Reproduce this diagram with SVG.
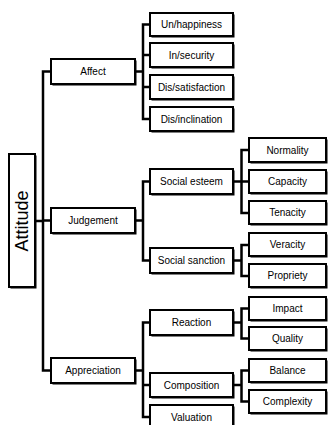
<svg xmlns="http://www.w3.org/2000/svg" width="330" height="425" viewBox="0 0 330 425">
<style>
.sh{fill:#000}
.bx{fill:#fff;stroke:#000;stroke-width:2}
.t{font-family:"Liberation Sans",Arial,sans-serif;font-size:10px;fill:#000;text-anchor:middle}
.c{fill:none;stroke:#000;stroke-width:2.5;stroke-linecap:square}
</style>
<rect width="330" height="425" fill="#fff"/>
<g id="connectors">
<path class="c" d="M35 221H43M43 71.5V370.5M43 71.5H51M43 220.5H51M43 370.5H51"/>
<path class="c" d="M135 71.5H143M143 24.5V119M143 24.5H150M143 55H150M143 87H150M143 119H150"/>
<path class="c" d="M135 220.5H143M143 181.5V260.5M143 181.5H150M143 260.5H150"/>
<path class="c" d="M135 370.5H143M143 322.5V417M143 322.5H150M143 385H150M143 417H150"/>
<path class="c" d="M233 181.5H241.5M241.5 150V213M241.5 150H249M241.5 181.5H249M241.5 213H249"/>
<path class="c" d="M233 260.5H241.5M241.5 245V276M241.5 245H249M241.5 276H249"/>
<path class="c" d="M233 322.5H241.5M241.5 308.5V338.5M241.5 308.5H249M241.5 338.5H249"/>
<path class="c" d="M233 385H241.5M241.5 370.5V401.5M241.5 370.5H249M241.5 401.5H249"/>
</g>
<g id="attitude"><rect class="sh" x="10.5" y="155.5" width="26" height="133"/><rect class="bx" x="9" y="154" width="26" height="133"/><text transform="translate(28,221) rotate(-90)" style="font-family:'Liberation Sans',Arial,sans-serif;font-size:18px;text-anchor:middle">Attitude</text></g>
<g id="affect"><rect class="sh" x="52.5" y="60.5" width="84" height="25"/><rect class="bx" x="51" y="59" width="84" height="25"/><text class="t" x="93" y="75">Affect</text></g>
<g id="judgement"><rect class="sh" x="52.5" y="209.5" width="84" height="25"/><rect class="bx" x="51" y="208" width="84" height="25"/><text class="t" x="93" y="224">Judgement</text></g>
<g id="appreciation"><rect class="sh" x="52.5" y="359.5" width="84" height="25"/><rect class="bx" x="51" y="358" width="84" height="25"/><text class="t" x="93" y="374">Appreciation</text></g>
<g id="unhappiness"><rect class="sh" x="151.5" y="14.5" width="83" height="23"/><rect class="bx" x="150" y="13" width="83" height="23"/><text class="t" x="191.5" y="28">Un/happiness</text></g>
<g id="insecurity"><rect class="sh" x="151.5" y="44.5" width="83" height="24"/><rect class="bx" x="150" y="43" width="83" height="24"/><text class="t" x="191.5" y="58.5">In/security</text></g>
<g id="dissatisfaction"><rect class="sh" x="151.5" y="76.5" width="83" height="24"/><rect class="bx" x="150" y="75" width="83" height="24"/><text class="t" x="191.5" y="90.5">Dis/satisfaction</text></g>
<g id="disinclination"><rect class="sh" x="151.5" y="108.5" width="83" height="24"/><rect class="bx" x="150" y="107" width="83" height="24"/><text class="t" x="191.5" y="122.5">Dis/inclination</text></g>
<g id="socialesteem"><rect class="sh" x="151.5" y="170.5" width="83" height="25"/><rect class="bx" x="150" y="169" width="83" height="25"/><text class="t" x="191.5" y="185">Social esteem</text></g>
<g id="socialsanction"><rect class="sh" x="151.5" y="249.5" width="83" height="25"/><rect class="bx" x="150" y="248" width="83" height="25"/><text class="t" x="191.5" y="264">Social sanction</text></g>
<g id="reaction"><rect class="sh" x="151.5" y="311.5" width="83" height="25"/><rect class="bx" x="150" y="310" width="83" height="25"/><text class="t" x="191.5" y="326">Reaction</text></g>
<g id="composition"><rect class="sh" x="151.5" y="374.5" width="83" height="24"/><rect class="bx" x="150" y="373" width="83" height="24"/><text class="t" x="191.5" y="388.5">Composition</text></g>
<g id="valuation"><rect class="sh" x="151.5" y="406.5" width="83" height="24"/><rect class="bx" x="150" y="405" width="83" height="24"/><text class="t" x="191.5" y="420.5">Valuation</text></g>
<g id="normality"><rect class="sh" x="250.5" y="139.5" width="77" height="24"/><rect class="bx" x="249" y="138" width="77" height="24"/><text class="t" x="287.5" y="153.5">Normality</text></g>
<g id="capacity"><rect class="sh" x="250.5" y="171.5" width="77" height="23"/><rect class="bx" x="249" y="170" width="77" height="23"/><text class="t" x="287.5" y="185">Capacity</text></g>
<g id="tenacity"><rect class="sh" x="250.5" y="202.5" width="77" height="23"/><rect class="bx" x="249" y="201" width="77" height="23"/><text class="t" x="287.5" y="216">Tenacity</text></g>
<g id="veracity"><rect class="sh" x="250.5" y="234.5" width="77" height="23"/><rect class="bx" x="249" y="233" width="77" height="23"/><text class="t" x="287.5" y="248">Veracity</text></g>
<g id="propriety"><rect class="sh" x="250.5" y="265.5" width="77" height="23"/><rect class="bx" x="249" y="264" width="77" height="23"/><text class="t" x="287.5" y="279">Propriety</text></g>
<g id="impact"><rect class="sh" x="250.5" y="298.5" width="77" height="23"/><rect class="bx" x="249" y="297" width="77" height="23"/><text class="t" x="287.5" y="312">Impact</text></g>
<g id="quality"><rect class="sh" x="250.5" y="328.5" width="77" height="23"/><rect class="bx" x="249" y="327" width="77" height="23"/><text class="t" x="287.5" y="342">Quality</text></g>
<g id="balance"><rect class="sh" x="250.5" y="360.5" width="77" height="23"/><rect class="bx" x="249" y="359" width="77" height="23"/><text class="t" x="287.5" y="374">Balance</text></g>
<g id="complexity"><rect class="sh" x="250.5" y="391.5" width="77" height="23"/><rect class="bx" x="249" y="390" width="77" height="23"/><text class="t" x="287.5" y="405">Complexity</text></g>
</svg>
